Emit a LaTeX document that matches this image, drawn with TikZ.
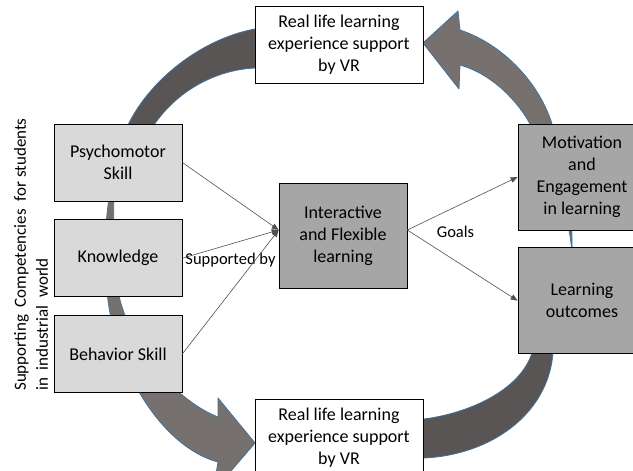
\documentclass[tikz,border=0pt]{standalone}
\usepackage{fontspec}
\setmainfont{Carlito}
\usetikzlibrary{positioning,arrows.meta}
\definecolor{ringdark}{RGB}{89,85,84}
\definecolor{ringmid}{RGB}{118,113,111}
\definecolor{ringline}{RGB}{65,113,156}
\definecolor{lightbox}{RGB}{217,217,217}
\definecolor{midbox}{RGB}{166,166,166}
\definecolor{linkgray}{RGB}{80,80,80}

\begin{document}
\begin{tikzpicture}[x=1pt,y=-1pt,
    box/.style={draw=black,line width=0.7pt,inner sep=0pt,align=center,font=\fontsize{18}{22}\selectfont},
    skill/.style={box,fill=lightbox,minimum width=128pt,minimum height=77pt},
    vrbox/.style={box,fill=white,minimum width=168pt,minimum height=77pt},
    goal/.style={box,fill=midbox,minimum width=128pt,minimum height=106pt},
    band/.style={draw=ringline,line width=0.8pt,line join=round},
    link/.style={draw=linkgray,line width=0.6pt,-{Triangle[length=7pt,width=5.5pt]}},
    lbl/.style={font=\fontsize{16.5}{20}\selectfont}]
  \useasboundingbox (0,0) rectangle (633,471);
  \clip (0,0) rectangle (633,471);

  % ring of curved arrows, drawn first so the boxes cover it
  \path[band,fill=ringdark] (122,140) .. controls (138,90) and (195,40) .. (255,29)
      -- (280,29) -- (280,68) -- (255,68) .. controls (212,70) and (168,95) .. (145,140) -- cycle;
  \path[band,fill=ringmid] (116,160) .. controls (102,220) and (100,290) .. (118,345)
      .. controls (140,410) and (180,452) .. (218,462) -- (213,492) -- (255,443) -- (218,398)
      -- (218,417) .. controls (170,398) and (130,340) .. (120,300)
      .. controls (113,265) and (112,200) .. (116,160) -- cycle;
  \path[band,fill=ringdark] (536,335) -- (532,353) .. controls (520,390) and (470,413) .. (424,419)
      -- (400,419) -- (400,458) -- (424,458) .. controls (490,455) and (548,415) .. (553,353)
      -- (557,335) -- cycle;
  \path[band,fill=ringmid] (572,252) .. controls (573,210) and (565,165) .. (552,124)
      .. controls (540,85) and (505,45) .. (460,30) -- (458,11) -- (423,43) -- (459,89)
      -- (460,65) .. controls (495,75) and (520,105) .. (530,124)
      .. controls (548,160) and (568,205) .. (572,252) -- cycle;

  \node[vrbox] (vrtop) at (339,44.5) {Real life learning\\experience support\\by VR};
  \node[vrbox] (vrbot) at (339,437.5) {Real life learning\\experience support\\by VR};

  \node[skill] (psy) at (118,162.5) {Psychomotor\\Skill};
  \node[skill] (know) [below=18pt of psy] {Knowledge};
  \node[skill] (beh) [below=18pt of know] {Behavior Skill};

  \node[box,fill=midbox,minimum width=128pt,minimum height=105pt] (inter) at (343,235.5) {Interactive\\and Flexible\\learning};

  \node[goal] (mot) at (582,177) {Motivation\\and\\Engagement\\in learning};
  \node[goal] (outc) [below=17pt of mot] {Learning\\outcomes};

  \node[rotate=90,anchor=west,align=left,inner sep=0pt,font=\fontsize{17}{22}\selectfont] (side) at (31,391)
      {Supporting~~Competencies~~for students\\in~~industrial~~world};

  \draw[link] (psy.east) -- ([yshift=5.5pt]inter.west);
  \draw[link] (know.east) -- node[lbl,below=5pt] (supp) {Supported by} ([yshift=5.5pt]inter.west);
  \draw[link] (beh.east) -- ([yshift=5.5pt]inter.west);
  \draw[link] ([yshift=5.5pt]inter.east) -- (mot.west);
  \draw[link] ([yshift=5.5pt]inter.east) -- (outc.west);
  \node[lbl] (goals) [right=26pt of inter.east,yshift=3.5pt] {Goals};
\end{tikzpicture}
\end{document}
